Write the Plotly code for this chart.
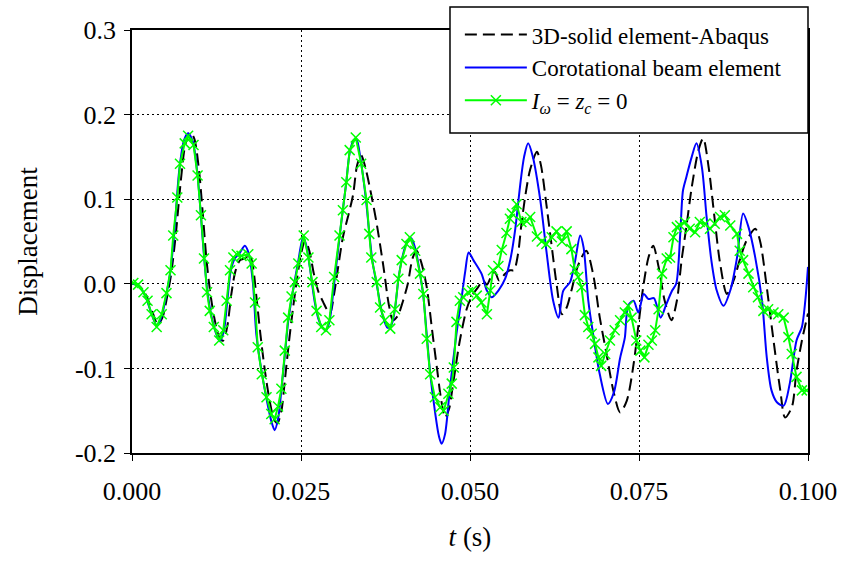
import plotly.graph_objects as go

# ---------------- data (time in ms, displacement) ----------------
t_abaqus = [0, 1, 2, 3, 3.8, 4.5, 5.2, 5.8, 6.5, 7.2, 7.9, 8.6, 9.2, 9.9, 10.5, 11.0, 11.6, 12.3, 13.0, 13.5,
            14.1, 14.7, 15.3, 16.0, 16.7, 17.4, 17.9, 18.4, 19.0, 19.7, 20.4, 21.0, 21.5, 22.1, 22.6, 23.2, 23.8,
            24.4, 25.0, 25.6, 26.2, 26.9, 27.6, 28.3, 28.8, 29.3, 29.9, 30.5, 31.2, 32.0, 32.7, 33.3, 33.9, 34.6,
            35.4, 36.2, 37.2, 38.0, 38.6, 39.3, 40.1, 40.8, 41.5, 42.1, 42.8, 43.6, 44.4, 45.1, 45.7, 46.3, 46.9,
            47.5, 48.5, 49.5, 50.3, 51.2, 51.9, 52.5, 53.2, 53.7, 54.3, 55.2, 55.9, 56.5, 57.1, 57.6, 58.2, 58.9,
            59.9, 60.5, 61.2, 62.0, 62.8, 63.6, 64.3, 65.0, 66.0, 67.2, 68.2, 69.2, 70.2, 71.2, 72.2, 73.2, 74.2,
            74.9, 75.6, 76.4, 77.1, 77.9, 78.8, 79.8, 80.6, 81.3, 82.0, 82.8, 83.8, 84.5, 85.3, 86.1, 87.0, 88.0,
            89.0, 89.9, 90.9, 92.2, 92.9, 93.9, 94.9, 95.9, 96.6, 97.6, 98.3, 99.1, 100]
v_abaqus = [0.0, -0.002, -0.012, -0.033, -0.048, -0.040, -0.015, 0.012, 0.060, 0.120, 0.165, 0.179, 0.172, 0.135,
            0.080, 0.030, -0.012, -0.045, -0.065, -0.067, -0.050, -0.012, 0.015, 0.028, 0.030, 0.034, 0.020, -0.015,
            -0.060, -0.105, -0.140, -0.160, -0.165, -0.150, -0.115, -0.070, -0.030, 0.005, 0.035, 0.051, 0.040,
            0.012, -0.010, -0.022, -0.030, -0.035, -0.012, 0.020, 0.055, 0.081, 0.105, 0.140, 0.152, 0.135, 0.105,
            0.071, 0.020, -0.025, -0.043, -0.038, -0.020, 0.000, 0.030, 0.039, 0.025, -0.004, -0.055, -0.099,
            -0.135, -0.158, -0.148, -0.118, -0.067, -0.030, -0.014, -0.004, 0.004, -0.001, 0.010, 0.014, 0.004,
            0.012, 0.016, 0.016, 0.035, 0.070, 0.105, 0.135, 0.156, 0.140, 0.100, 0.050, 0.000, -0.036, -0.028,
            -0.008, 0.022, 0.039, 0.012, -0.040, -0.083, -0.126, -0.152, -0.138, -0.095, -0.050, -0.005, 0.031,
            0.045, 0.020, -0.020, -0.043, -0.020, 0.028, 0.067, 0.114, 0.158, 0.172, 0.138, 0.083, 0.024, -0.012,
            0.004, 0.028, 0.051, 0.065, 0.051, -0.004, -0.067, -0.126, -0.158, -0.146, -0.103, -0.067, -0.035]

t_corot = [0, 1, 2, 3, 3.7, 4.4, 5.1, 5.7, 6.3, 7.0, 7.7, 8.3, 9.0, 9.7, 10.2, 10.7, 11.2, 11.8, 12.5, 13.0, 13.6,
           14.1, 14.6, 15.2, 15.9, 16.7, 17.3, 17.9, 18.4, 19.2, 20.0, 20.6, 21.1, 21.6, 22.1, 22.6, 23.1, 23.6,
           24.1, 24.6, 25.3, 25.7, 26.3, 27.0, 27.6, 28.2, 28.7, 29.2, 29.9, 30.7, 31.2, 31.7, 32.2, 32.8, 33.2,
           33.8, 34.6, 35.1, 35.6, 36.3, 37.0, 37.8, 38.4, 38.9, 39.4, 39.9, 40.6, 41.3, 41.9, 42.6, 43.1, 43.6,
           44.1, 44.8, 45.4, 45.8, 46.3, 47.0, 48.0, 48.7, 49.3, 49.8, 50.5, 51.7, 52.5, 53.2, 54.2, 55.2, 56.0,
           56.7, 57.4, 58.0, 58.6, 59.3, 60.4, 61.3, 62.3, 63.1, 63.8, 64.8, 65.5, 66.3, 66.8, 67.5, 68.2, 69.2,
           70.4, 71.3, 72.2, 72.9, 73.4, 74.2, 74.9, 75.7, 76.4, 77.2, 78.2, 79.0, 79.9, 80.5, 81.1, 81.5, 82.0,
           82.8, 83.5, 84.3, 85.0, 85.7, 86.5, 87.5, 88.5, 89.5, 90.4, 91.2, 92.2, 93.2, 93.9, 94.6, 95.4, 96.4,
           97.3, 98.3, 99.1, 99.6, 100]
v_corot = [0.0, -0.002, -0.015, -0.038, -0.050, -0.038, -0.012, 0.016, 0.065, 0.135, 0.170, 0.178, 0.168, 0.128,
           0.080, 0.028, -0.012, -0.040, -0.060, -0.068, -0.055, -0.020, 0.015, 0.030, 0.036, 0.045, 0.035, 0.000,
           -0.060, -0.105, -0.140, -0.162, -0.173, -0.160, -0.125, -0.085, -0.045, -0.018, 0.005, 0.027, 0.055,
           0.048, 0.020, -0.020, -0.042, -0.052, -0.055, -0.045, 0.000, 0.055, 0.088, 0.120, 0.155, 0.170, 0.171,
           0.148, 0.100, 0.060, 0.025, -0.005, -0.035, -0.052, -0.048, -0.030, 0.005, 0.028, 0.048, 0.054, 0.042,
           0.012, -0.015, -0.060, -0.105, -0.150, -0.180, -0.189, -0.178, -0.126, -0.059, -0.020, 0.015, 0.037,
           0.028, 0.012, -0.008, -0.016, -0.008, 0.006, 0.030, 0.065, 0.115, 0.150, 0.166, 0.150, 0.099, 0.039,
           -0.020, -0.040, -0.008, 0.002, 0.025, 0.057, 0.043, -0.020, -0.059, -0.107, -0.142, -0.128, -0.088,
           -0.064, -0.026, -0.020, -0.034, -0.012, -0.018, -0.017, -0.040, -0.025, -0.008, 0.000, 0.059, 0.110,
           0.126, 0.150, 0.166, 0.138, 0.079, 0.028, -0.008, -0.026, -0.008, 0.031, 0.083, 0.067, 0.031, -0.020,
           -0.087, -0.126, -0.140, -0.144, -0.118, -0.067, -0.051, -0.020, 0.020]

t_noWarp = [0.2, 0.9, 1.7, 2.3, 2.9, 3.65, 4.4, 5.1, 5.7, 6.1, 6.7, 7.1, 7.8, 8.3, 9.1, 9.7, 10.2, 10.65, 11.1, 11.5,
            12.1, 12.9, 13.5, 14.0, 14.5, 15.0, 15.5, 16.2, 17.2, 17.7, 18.2, 18.6, 19.2, 19.9, 20.6, 21.1, 21.6,
            22.1, 22.6, 23.1, 23.6, 24.1, 24.6, 25.4, 26.1, 26.7, 27.3, 28.0, 28.7, 29.2, 29.9, 30.7, 31.2, 31.7,
            32.2, 33.1, 33.9, 34.7, 35.1, 35.4, 36.2, 36.7, 37.4, 38.2, 38.9, 39.4, 39.9, 40.6, 41.1, 41.9, 42.6,
            43.1, 43.6, 44.1, 44.8, 45.6, 46.1, 46.8, 47.3, 47.6, 48.0, 48.5, 49.0, 49.7, 50.3, 51.0, 51.7, 52.5,
            53.0, 53.4, 54.2, 54.7, 55.4, 55.9, 56.2, 56.9, 57.6, 58.4, 58.9, 59.9, 60.6, 61.3, 62.1, 62.8, 63.6,
            64.3, 65.0, 65.5, 66.0, 66.5, 67.0, 67.5, 68.0, 68.5, 69.0, 69.4, 70.0, 70.7, 71.4, 72.2, 72.9, 73.4,
            73.9, 74.6, 75.2, 75.8, 76.4, 76.9, 77.4, 77.9, 78.4, 79.1, 79.6, 80.1, 80.6, 81.1, 81.8, 82.5, 83.3,
            84.0, 84.8, 85.5, 86.2, 87.0, 87.7, 88.5, 89.5, 89.9, 90.4, 91.2, 91.9, 92.6, 93.4, 94.1, 94.9, 95.6,
            96.4, 97.1, 97.6, 98.3, 99.1, 99.8]
v_noWarp = [0.001, -0.001, -0.010, -0.020, -0.036, -0.051, -0.036, -0.011, 0.016, 0.057, 0.102, 0.142, 0.166, 0.175,
            0.164, 0.128, 0.081, 0.030, -0.010, -0.032, -0.051, -0.067, -0.055, -0.020, 0.016, 0.031, 0.035, 0.033,
            0.035, 0.024, -0.022, -0.075, -0.107, -0.134, -0.154, -0.160, -0.145, -0.124, -0.079, -0.040, -0.015,
            0.002, 0.024, 0.057, 0.031, 0.002, -0.032, -0.051, -0.055, -0.043, 0.008, 0.057, 0.087, 0.120, 0.158,
            0.173, 0.142, 0.099, 0.059, 0.031, 0.002, -0.028, -0.043, -0.053, -0.030, 0.006, 0.028, 0.047, 0.055,
            0.039, 0.012, -0.012, -0.065, -0.107, -0.134, -0.146, -0.150, -0.130, -0.118, -0.099, -0.045, -0.020,
            -0.016, -0.010, -0.008, -0.014, -0.022, -0.036, -0.008, 0.016, 0.021, 0.040, 0.060, 0.077, 0.083, 0.094,
            0.073, 0.074, 0.079, 0.056, 0.050, 0.047, 0.055, 0.062, 0.050, 0.062, 0.041, 0.017, 0.008, -0.004,
            -0.037, -0.051, -0.059, -0.071, -0.087, -0.097, -0.083, -0.067, -0.055, -0.043, -0.034, -0.026, -0.040,
            -0.067, -0.079, -0.087, -0.072, -0.067, -0.055, -0.030, 0.012, 0.030, 0.031, 0.055, 0.067, 0.069, 0.073,
            0.065, 0.061, 0.073, 0.071, 0.065, 0.071, 0.079, 0.081, 0.069, 0.059, 0.039, 0.028, 0.012, -0.004,
            -0.016, -0.032, -0.030, -0.034, -0.036, -0.040, -0.063, -0.083, -0.110, -0.126, -0.126]

series_names = ["3D-solid element-Abaqus", "Corotational beam element",
                "<i>I</i><sub><i>ω</i></sub> = <i>z</i><sub><i>c</i></sub> = 0"]

x_tick_vals = [0.0, 0.025, 0.05, 0.075, 0.1]
x_tick_text = ["0.000", "0.025", "0.050", "0.075", "0.100"]
y_tick_vals = [-0.2, -0.1, 0.0, 0.1, 0.2, 0.3]
y_tick_text = ["-0.2", "-0.1", "0.0", "0.1", "0.2", "0.3"]

FONT = "Liberation Serif"

def sec(ts):
    return [t / 1000.0 for t in ts]

fig = go.Figure()
fig.add_trace(go.Scatter(x=sec(t_abaqus), y=v_abaqus, mode="lines", name=series_names[0],
                         line=dict(color="black", width=2, dash="12px,6px", shape="spline", smoothing=0.8)))
fig.add_trace(go.Scatter(x=sec(t_corot), y=v_corot, mode="lines", name=series_names[1],
                         line=dict(color="rgb(0,0,255)", width=2, shape="spline", smoothing=0.8)))
fig.add_trace(go.Scatter(x=sec(t_noWarp), y=v_noWarp, mode="lines+markers", name=series_names[2],
                         line=dict(color="rgb(0,255,0)", width=2),
                         marker=dict(symbol="x-thin", size=10, line=dict(color="rgb(0,255,0)", width=1.5))))

# legend frame (drawn as a shape so the box can carry the original padding)
fig.add_shape(type="rect", xref="paper", yref="paper",
              x0=0.4704, x1=1.0, y0=0.7565, y1=1.0544,
              line=dict(color="black", width=1.5), fillcolor="white", layer="above")

fig.update_layout(
    width=845, height=561,
    margin=dict(l=132, r=37, t=30, b=108, autoexpand=False),
    paper_bgcolor="white", plot_bgcolor="white",
    font=dict(family=FONT, size=26, color="black"),
    showlegend=True,
    legend=dict(x=0.485, y=1.040, xanchor="left", yanchor="top",
                bgcolor="rgba(0,0,0,0)", borderwidth=0,
                font=dict(family=FONT, size=23, color="black"),
                tracegroupgap=0, itemwidth=62),
)
fig.update_xaxes(range=[0, 0.1], tickvals=x_tick_vals, ticktext=x_tick_text,
                 showline=True, linecolor="black", linewidth=1.5, mirror=True,
                 ticks="outside", ticklen=6, tickcolor="black", ticklabelstandoff=8,
                 showgrid=True, gridcolor="black", gridwidth=1, griddash="2px,3px",
                 zeroline=False,
                 title=dict(text="<i>t</i> (s)", font=dict(family=FONT, size=27), standoff=22))
fig.update_yaxes(range=[-0.2, 0.3], tickvals=y_tick_vals, ticktext=y_tick_text,
                 showline=True, linecolor="black", linewidth=1.5, mirror=True,
                 ticks="outside", ticklen=6, tickcolor="black", ticklabelstandoff=3,
                 showgrid=True, gridcolor="black", gridwidth=1, griddash="2px,3px",
                 zeroline=False,
                 title=dict(text="Displacement", font=dict(family=FONT, size=27), standoff=29))

fig.write_html("out.html")
